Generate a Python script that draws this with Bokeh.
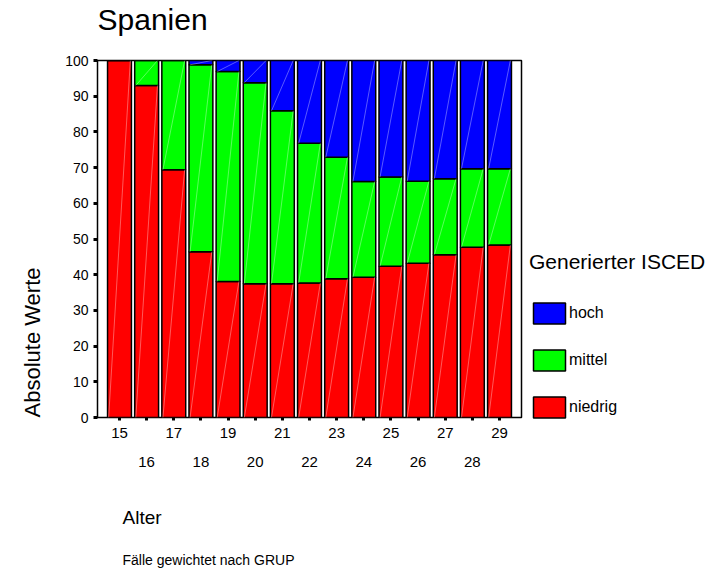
from bokeh.plotting import figure
from bokeh.models import (FixedTicker, LinearAxis, Legend, LegendItem, Title,
                          Range1d, ColumnDataSource)
from bokeh.embed import file_html
from bokeh.resources import INLINE

# ---- data -------------------------------------------------------------
ages = [15, 16, 17, 18, 19, 20, 21, 22, 23, 24, 25, 26, 27, 28, 29]
niedrig = [100.0, 93.0, 69.4, 46.4, 38.1, 37.5, 37.5, 37.7, 38.9, 39.3, 42.4, 43.2, 45.6, 47.7, 48.3]
mittel = [0.0, 7.0, 30.6, 52.4, 58.8, 56.3, 48.4, 39.1, 34.0, 26.8, 25.0, 23.0, 21.3, 22.0, 21.4]
hoch = [0.0, 0.0, 0.0, 1.2, 3.1, 6.2, 14.1, 23.2, 27.1, 33.9, 32.6, 33.8, 33.1, 30.3, 30.3]
series = ["niedrig", "mittel", "hoch"]
colors = ["#FF0000", "#00FF00", "#0000FF"]
y_ticks = [0, 10, 20, 30, 40, 50, 60, 70, 80, 90, 100]

title_text = "Spanien"
y_label = "Absolute Werte"
x_label = "Alter"
footnote = "Fälle gewichtet nach GRUP"
legend_title = "Generierter ISCED"

FONT = "Liberation Sans"
BAR_W = 0.88

src = ColumnDataSource(dict(age=ages, niedrig=niedrig, mittel=mittel, hoch=hoch))

p = figure(frame_width=424, frame_height=357,
           x_range=Range1d(14.19, 29.81), y_range=Range1d(0, 100),
           output_backend="svg", toolbar_location=None,
           min_border_left=97, min_border_top=60, min_border_right=200,
           min_border_bottom=155)
p.grid.visible = False
p.outline_line_color = "black"
p.outline_line_width = 1.5
p.background_fill_color = "white"


def spacer(px):
    return Title(text=" ", text_font_size="1px", standoff=px)


# title: spacer next to the frame, then the title text
p.add_layout(spacer(22), "above")
p.add_layout(Title(text=title_text, align="left", text_font=FONT, text_font_size="30px",
                   text_font_style="normal", text_color="black", standoff=0), "above")

renderers = p.vbar_stack(series, x="age", width=BAR_W, color=colors,
                         line_color="black", line_width=1.5, source=src)

# faint diagonal seams inside each segment (as in the reference rendering)
x0s, y0s, x1s, y1s = [], [], [], []
for i, a in enumerate(ages):
    base = 0.0
    for vals in (niedrig, mittel, hoch):
        v = vals[i]
        if v > 0:
            x0s.append(a - BAR_W / 2 + 0.04)
            y0s.append(base)
            x1s.append(a + BAR_W / 2 - 0.04)
            y1s.append(base + v)
        base += v
p.segment(x0=x0s, y0=y0s, x1=x1s, y1=y1s, line_color="white", line_alpha=0.35, line_width=1)

# y axis
ya = p.yaxis[0]
ya.ticker = FixedTicker(ticks=y_ticks)
ya.axis_line_color = None
ya.major_tick_in = 0
ya.major_tick_out = 4
ya.major_tick_line_width = 3
ya.minor_tick_line_color = None
ya.major_label_standoff = 5
ya.major_label_text_font = FONT
ya.major_label_text_font_size = "14px"
ya.major_label_text_color = "black"

# x axis: first row (odd ages labelled, ticks at all ages)
xa = p.xaxis[0]
xa.ticker = FixedTicker(ticks=ages)
xa.major_label_overrides = {a: ("" if a % 2 == 0 else str(a)) for a in ages}
xa.axis_line_color = None
xa.major_tick_in = 0
xa.major_tick_out = 3
xa.major_tick_line_width = 3
xa.minor_tick_line_color = None
xa.major_label_standoff = 7
xa.major_label_text_font = FONT
xa.major_label_text_font_size = "15px"
xa.major_label_text_color = "black"

# x axis second row (even ages)
xa2 = LinearAxis(ticker=FixedTicker(ticks=[a for a in ages if a % 2 == 0]))
xa2.axis_line_color = None
xa2.major_tick_line_color = None
xa2.major_tick_in = 0
xa2.major_tick_out = 0
xa2.minor_tick_line_color = None
xa2.major_label_standoff = 16
xa2.major_label_text_font = FONT
xa2.major_label_text_font_size = "15px"
xa2.major_label_text_color = "black"
p.add_layout(xa2, "below")

# y axis label (bottom-aligned, as in the reference)
p.add_layout(Title(text=y_label, align="left", text_font=FONT, text_font_size="22px",
                   text_font_style="normal", text_color="black", standoff=35), "left")

# x axis label and footnote
p.add_layout(spacer(12), "below")
p.add_layout(Title(text=x_label, align="left", offset=25, text_font=FONT,
                   text_font_size="19px", text_font_style="normal", text_color="black",
                   standoff=40), "below")
p.add_layout(Title(text=footnote, align="left", offset=25, text_font=FONT,
                   text_font_size="14px", text_font_style="normal", text_color="black",
                   standoff=4), "below")

# legend (reverse order: hoch on top)
legend = Legend(items=[LegendItem(label=s, renderers=[r]) for s, r in
                       reversed(list(zip(series, renderers)))],
                location=(8, -3), title=legend_title,
                title_text_font=FONT, title_text_font_size="21px",
                title_text_font_style="normal", title_text_color="black",
                title_standoff=26,
                label_text_font=FONT, label_text_font_size="16px",
                label_text_color="black",
                glyph_width=40, glyph_height=26, label_height=26,
                spacing=21, padding=0, margin=0, label_standoff=0,
                border_line_color=None, background_fill_alpha=0)
p.add_layout(legend, "right")

open("out.html", "w").write(file_html(p, INLINE))
